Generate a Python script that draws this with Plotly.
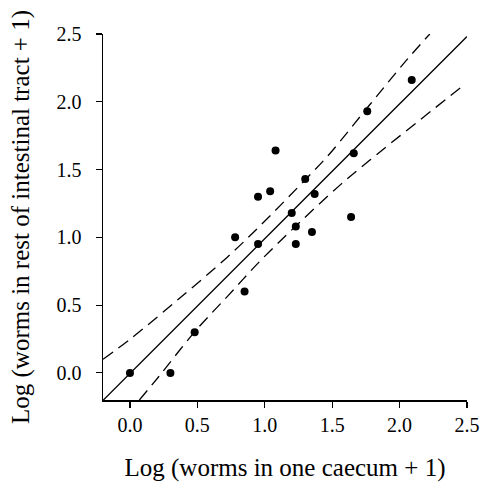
import plotly.graph_objects as go

# Observed points (log-transformed worm counts)
caecum = [0.00, 0.30, 0.48, 0.85, 0.78, 0.95, 0.95, 1.04, 1.08, 1.20, 1.23, 1.23,
          1.30, 1.37, 1.35, 1.64, 1.66, 1.76, 2.09]
rest = [0.00, 0.00, 0.30, 0.60, 1.00, 0.95, 1.30, 1.34, 1.64, 1.18, 1.08, 0.95,
        1.43, 1.32, 1.04, 1.15, 1.62, 1.93, 2.16]

# Regression line (read endpoints)
fit_x = [-0.2, 2.5]
fit_y = [-0.203, 2.481]

# Confidence band curves
upper_x = [-0.2, 0.0, 0.37, 0.72, 0.96, 1.30, 1.48, 1.78, 2.05, 2.224]
upper_y = [0.10, 0.248, 0.552, 0.852, 1.08, 1.425, 1.615, 1.98, 2.305, 2.50]
lower_x = [0.07, 0.21, 0.48, 0.73, 0.96, 1.23, 1.56, 1.78, 2.46]
lower_y = [-0.2, -0.032, 0.303, 0.572, 0.82, 1.083, 1.387, 1.57, 2.11]

ticks = [0.0, 0.5, 1.0, 1.5, 2.0, 2.5]
tick_text = ["0.0", "0.5", "1.0", "1.5", "2.0", "2.5"]

font = "Liberation Serif, Times New Roman, serif"

fig = go.Figure()
fig.add_trace(go.Scatter(x=upper_x, y=upper_y, mode="lines", line_shape="spline",
                         line=dict(color="black", width=1.3, dash="12px,7px"),
                         hoverinfo="skip"))
fig.add_trace(go.Scatter(x=lower_x, y=lower_y, mode="lines", line_shape="spline",
                         line=dict(color="black", width=1.3, dash="12px,7px"),
                         hoverinfo="skip"))
fig.add_trace(go.Scatter(x=fit_x, y=fit_y, mode="lines",
                         line=dict(color="black", width=1.3)))
fig.add_trace(go.Scatter(x=caecum, y=rest, mode="markers",
                         marker=dict(color="black", size=8)))

axis_common = dict(
    showgrid=False, zeroline=False, showline=True, linecolor="black", linewidth=1.5,
    ticks="outside", ticklen=6, tickwidth=1.2, tickcolor="black",
    tickvals=ticks, ticktext=tick_text,
    tickfont=dict(family=font, size=20, color="black"),
    range=[-0.2, 2.5], mirror=False, automargin=False,
)

fig.update_layout(
    width=483, height=485,
    margin=dict(l=103, r=16, t=34, b=85),
    plot_bgcolor="white", paper_bgcolor="white",
    showlegend=False,
    xaxis=dict(**axis_common,
               title=dict(text="Log (worms in one caecum + 1)",
                          font=dict(family=font, size=25, color="black"),
                          standoff=24)),
    yaxis=dict(**axis_common, ticklabelstandoff=10,
               title=dict(text="Log (worms in rest of intestinal tract + 1)",
                          font=dict(family=font, size=25, color="black"),
                          standoff=20)),
)

fig.write_html("out.html",
               config={"displayModeBar": False, "staticPlot": True},
               post_script="document.body.style.margin='0';document.body.style.overflow='hidden';")
